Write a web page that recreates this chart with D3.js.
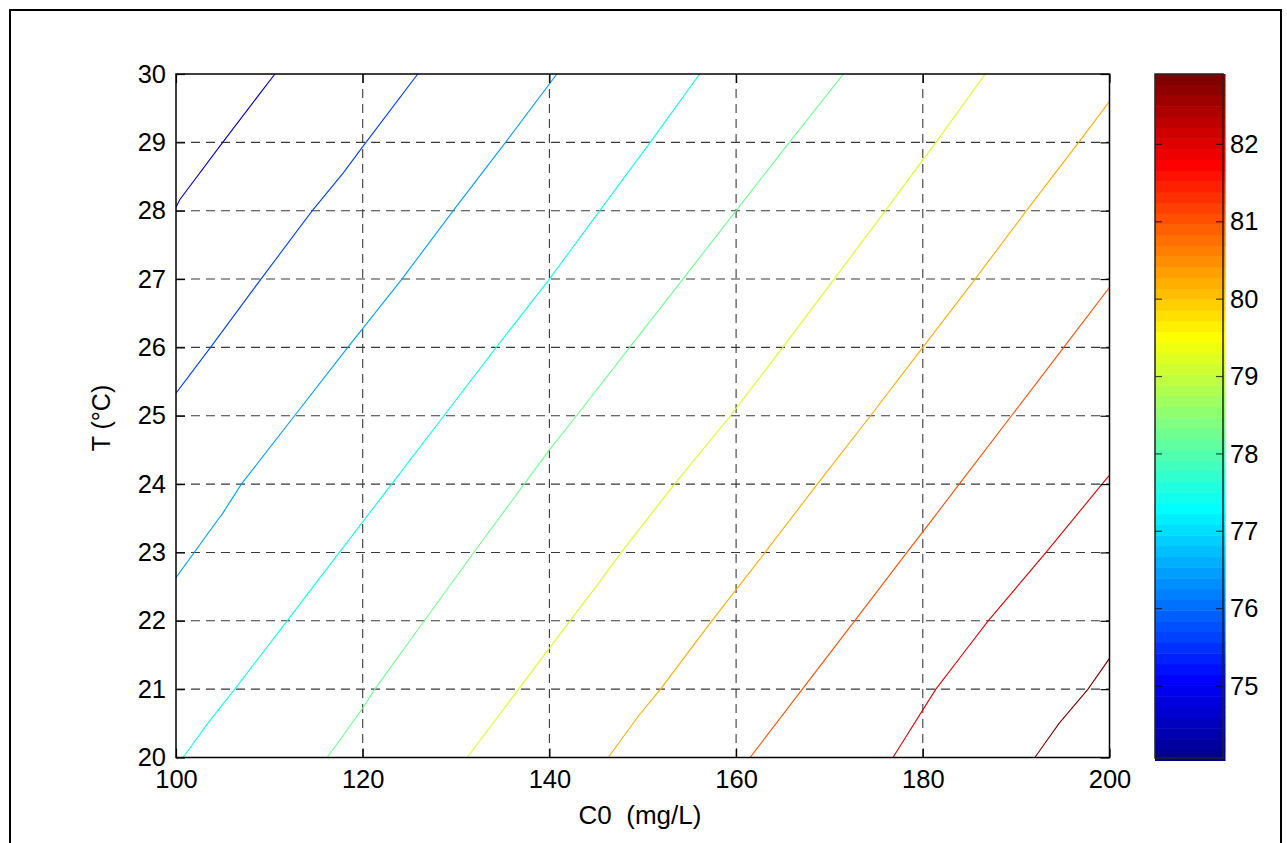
<!DOCTYPE html>
<html>
<head>
<meta charset="utf-8">
<script src="https://cdn.jsdelivr.net/npm/d3@7"></script>
<style>
  html, body { margin: 0; padding: 0; background: #fff; }
  svg { display: block; }
  text { font-family: "Liberation Sans", Arial, sans-serif; fill: #000; }
</style>
</head>
<body>
<svg id="chart" width="1287" height="843"></svg>
<script>
// ---------------- data ----------------
const c0Ticks = [100, 120, 140, 160, 180, 200];
const tTicks = [20, 21, 22, 23, 24, 25, 26, 27, 28, 29, 30];
const colorbarTicks = [75, 76, 77, 78, 79, 80, 81, 82];
const colorRange = [74.07, 82.91];
const contourLevels = [74.75, 75.65, 76.55, 77.45, 78.35, 79.25, 80.15, 81.05, 81.95, 82.85];

// contour lines: [C0, T]
const contour1 = [[100, 28.05], [100.4, 28.16], [105.0, 29.0], [107.9, 29.52], [110.6, 30]];
const contour2 = [[100, 25.33], [103.7, 26], [109.1, 27], [114.6, 28], [117.9, 28.55], [120.35, 29], [125.9, 30]];
const contour3 = [[100, 22.63], [104.6, 23.5], [104.9, 23.55], [107.0, 24], [112.7, 25], [118.4, 26], [124.2, 27], [129.7, 28], [135.3, 29], [140.8, 30]];
const contour4 = [[100.75, 20], [103.4, 20.5], [106.3, 21], [111.9, 22], [117.5, 23], [123.1, 24], [128.7, 25], [134.3, 26], [140, 27], [145.4, 28], [150.8, 29], [156.1, 30]];
const contour5 = [[116.2, 20], [120, 20.72], [121.3, 21], [126.6, 22], [131.9, 23], [137.3, 24], [140, 24.5], [142.9, 25], [148.6, 26], [154.3, 27], [160, 28], [165.7, 29], [171.5, 30]];
const contour6 = [[131.2, 20], [136.7, 21], [142.2, 22], [145.0, 22.5], [147.7, 23], [153.4, 24], [159.4, 25], [165, 26], [170.5, 27], [176, 28], [181.4, 29], [186.7, 30]];
const contour7 = [[146.3, 20], [149.5, 20.6], [151.9, 21], [157.4, 22], [163.1, 23], [168.7, 24], [174.4, 25], [180, 26], [185.6, 27], [191.1, 28], [196.7, 29], [200, 29.6]];
const contour8 = [[161.5, 20], [167.1, 21], [172.7, 22], [178.3, 23], [180, 23.3], [183.9, 24], [189.5, 25], [195.1, 26], [200, 26.88]];
const contour9 = [[176.8, 20], [181.4, 21], [184.2, 21.5], [187, 22], [193.2, 23], [199.2, 24], [200, 24.13]];
const contour10 = [[192.0, 20], [194.6, 20.5], [197.7, 21], [200, 21.45]];
const contours = [contour1, contour2, contour3, contour4, contour5, contour6, contour7, contour8, contour9, contour10];

// ---------------- jet colormap (MATLAB jet(64)) ----------------
function jet(m) {
  const n = Math.ceil(m / 4);
  const u = [];
  for (let i = 1; i <= n; i++) u.push(i / n);
  for (let i = 0; i < n - 1; i++) u.push(1);
  for (let i = n; i >= 1; i--) u.push(i / n);
  const off = Math.ceil(n / 2) - (m % 4 === 1 ? 1 : 0);
  const J = Array.from({length: m}, () => [0, 0, 0]);
  u.forEach((val, k) => {
    const g = off + k + 1, r = g + n, b = g - n;
    if (r <= m) J[r - 1][0] = val;
    if (g <= m) J[g - 1][1] = val;
    if (b > 0) J[b - 1][2] = val;
  });
  return J.map(c => `rgb(${Math.round(c[0]*255)},${Math.round(c[1]*255)},${Math.round(c[2]*255)})`);
}
const cmap = jet(64);
function colorFor(v) {
  let idx = Math.floor((v - colorRange[0]) / (colorRange[1] - colorRange[0]) * cmap.length);
  idx = Math.max(0, Math.min(cmap.length - 1, idx));
  return cmap[idx];
}

// ---------------- layout ----------------
const svg = d3.select("#chart");
const plot = {left: 176, right: 1109.5, top: 74, bottom: 757.5};
const cbar = {left: 1155, right: 1223, top: 74, bottom: 758};

const x = d3.scaleLinear().domain([100, 200]).range([plot.left, plot.right]);
const y = d3.scaleLinear().domain([20, 30]).range([plot.bottom, plot.top]);
const cy = d3.scaleLinear().domain(colorRange).range([cbar.bottom, cbar.top]);
const bandY = d3.scaleLinear().domain([0, cmap.length]).range([760.5, cbar.top]);

// outer figure frame
svg.append("rect").attr("x", 10).attr("y", 10).attr("width", 1271).attr("height", 900)
  .attr("fill", "none").attr("stroke", "#000").attr("stroke-width", 2);

// grid
const g = svg.append("g");
g.selectAll("line.gx").data(c0Ticks.slice(1, -1)).join("line")
  .attr("x1", d => x(d)).attr("x2", d => x(d)).attr("y1", plot.top).attr("y2", plot.bottom)
  .attr("stroke", "#3a3a3a").attr("stroke-width", 1.1).attr("stroke-dasharray", "9,6");
g.selectAll("line.gy").data(tTicks.slice(1, -1)).join("line")
  .attr("y1", d => y(d)).attr("y2", d => y(d)).attr("x1", plot.left).attr("x2", plot.right)
  .attr("stroke", "#3a3a3a").attr("stroke-width", 1.1).attr("stroke-dasharray", "9,6");

// contour lines
const line = d3.line().x(d => x(d[0])).y(d => y(d[1]));
const clipId = "plotclip";
svg.append("clipPath").attr("id", clipId).append("rect")
  .attr("x", plot.left).attr("y", plot.top).attr("width", plot.right - plot.left).attr("height", plot.bottom - plot.top);
svg.append("g").attr("clip-path", `url(#${clipId})`)
  .selectAll("path").data(contours).join("path")
  .attr("d", line).attr("fill", "none")
  .attr("stroke", (d, i) => colorFor(contourLevels[i])).attr("stroke-width", 1.1);

// axes (MATLAB style: ticks inside, box)
const tickLen = 9;
const axG = svg.append("g");
axG.append("g").attr("transform", `translate(0,${plot.bottom})`)
  .call(d3.axisBottom(x).tickValues(c0Ticks).tickSize(-tickLen).tickPadding(12).tickFormat(d3.format("d")))
  .call(s => s.select(".domain").remove());
axG.append("g").attr("transform", `translate(0,${plot.top})`)
  .call(d3.axisTop(x).tickValues(c0Ticks).tickSize(-tickLen).tickFormat(""))
  .call(s => s.select(".domain").remove());
axG.append("g").attr("transform", `translate(${plot.left},0)`)
  .call(d3.axisLeft(y).tickValues(tTicks).tickSize(-tickLen).tickPadding(10).tickFormat(d3.format("d")))
  .call(s => s.select(".domain").remove());
axG.append("g").attr("transform", `translate(${plot.right},0)`)
  .call(d3.axisRight(y).tickValues(tTicks).tickSize(-tickLen).tickFormat(""))
  .call(s => s.select(".domain").remove());
axG.selectAll(".tick line").attr("stroke", "#000").attr("stroke-width", 1.2);
axG.selectAll(".tick text").attr("font-size", 25.5).attr("font-family", "Liberation Sans, Arial, sans-serif").attr("fill", "#000");
axG.selectAll("g").attr("font-size", 25.5);
svg.append("rect").attr("x", plot.left).attr("y", plot.top)
  .attr("width", plot.right - plot.left).attr("height", plot.bottom - plot.top)
  .attr("fill", "none").attr("stroke", "#000").attr("stroke-width", 1.5);

// axis labels
svg.append("text").attr("x", 640).attr("y", 824).attr("text-anchor", "middle")
  .attr("font-size", 26).style("white-space", "pre").text("C0  (mg/L)");
svg.append("text").attr("transform", "translate(110,418) rotate(-90)").attr("text-anchor", "middle")
  .attr("font-size", 25).text("T (°C)");

// colorbar
const cb = svg.append("g");
cb.selectAll("rect.band").data(cmap).join("rect")
  .attr("x", cbar.left).attr("width", 1225.5 - cbar.left)
  .attr("y", (d, i) => bandY(i + 1)).attr("height", (d, i) => bandY(i) - bandY(i + 1) + 0.5)
  .attr("fill", d => d);
const cbAx = cb.append("g").attr("transform", `translate(${cbar.right},0)`)
  .call(d3.axisRight(cy).tickValues(colorbarTicks).tickSize(0).tickPadding(7).tickFormat(d3.format("d")))
  .call(s => s.select(".domain").remove());
cbAx.selectAll(".tick text").attr("font-size", 25.5).attr("font-family", "Liberation Sans, Arial, sans-serif").attr("fill", "#000");
cb.selectAll("line.tl").data(colorbarTicks).join("line")
  .attr("x1", cbar.left).attr("x2", cbar.left + 7).attr("y1", d => cy(d)).attr("y2", d => cy(d))
  .attr("stroke", "#000").attr("stroke-width", 1.2).attr("stroke-opacity", 0.7);
cb.selectAll("line.tr").data(colorbarTicks).join("line")
  .attr("x1", cbar.right - 7).attr("x2", cbar.right).attr("y1", d => cy(d)).attr("y2", d => cy(d))
  .attr("stroke", "#000").attr("stroke-width", 1.2).attr("stroke-opacity", 0.7);
cb.append("rect").attr("x", cbar.left).attr("y", cbar.top)
  .attr("width", cbar.right - cbar.left).attr("height", cbar.bottom - cbar.top)
  .attr("fill", "none").attr("stroke", "#222").attr("stroke-width", 1.5);
</script>
</body>
</html>
